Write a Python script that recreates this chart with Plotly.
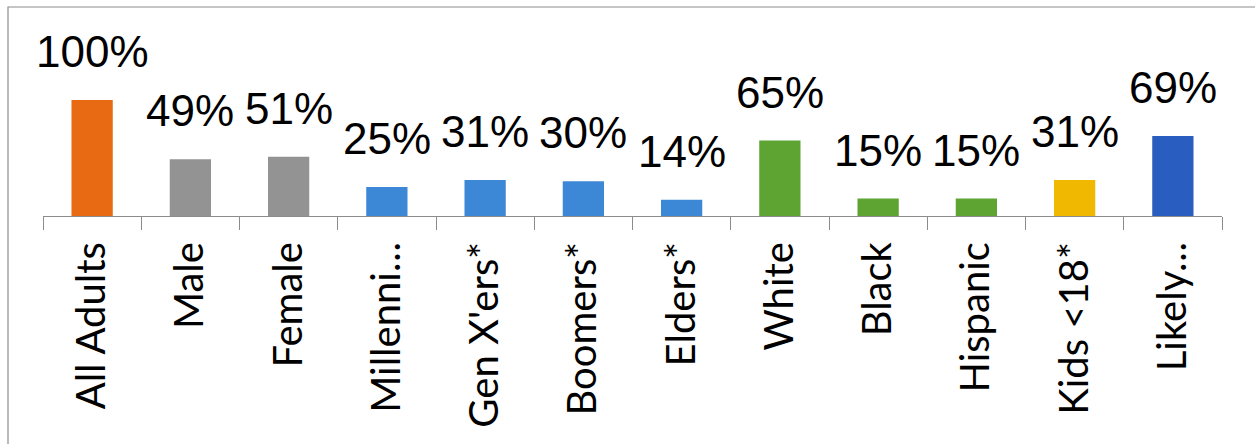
import plotly.graph_objects as go

# Audience segments and their share (%)
categories = ["All Adults", "Male", "Female", "Millenni…", "Gen X'ers*", "Boomers*",
              "Elders*", "White", "Black", "Hispanic", "Kids <18*", "Likely…"]
values = [100, 49, 51, 25, 31, 30, 14, 65, 15, 15, 31, 69]
value_labels = ["100%", "49%", "51%", "25%", "31%", "30%", "14%", "65%", "15%", "15%", "31%", "69%"]
bar_colors = ["#E86A12", "#939393", "#939393", "#3C88D6", "#3C88D6", "#3C88D6",
              "#3C88D6", "#5DA433", "#5DA433", "#5DA433", "#F0B800", "#2A5DC0"]

W, H = 1255, 444
ML, MR, MT, MB = 43, 33, 20, 228

fig = go.Figure()
fig.add_trace(go.Bar(
    x=categories,
    y=values,
    width=0.42,
    marker=dict(color=bar_colors, line=dict(width=0)),
    hoverinfo="x+y",
))

for cat, v, lab in zip(categories, values, value_labels):
    fig.add_annotation(
        x=cat, y=v, text=lab, showarrow=False,
        xanchor="center", yanchor="bottom", yshift=22,
        font=dict(family="Liberation Sans, Arial, sans-serif", size=44, color="#000000"),
    )

# Outer frame (left and top edges visible, the rest runs off the canvas)
pw = W - ML - MR
ph = H - MT - MB
fig.add_shape(
    type="rect", xref="paper", yref="paper",
    x0=(8 - ML) / pw, x1=(W + 20 - ML) / pw,
    y0=-(H + 20 - MT - ph) / ph, y1=(H - 7 - MB) / ph,
    line=dict(color="#8C8C8C", width=1.2), fillcolor="rgba(0,0,0,0)", layer="below",
)

fig.update_layout(
    width=W, height=H,
    margin=dict(l=ML, r=MR, t=MT, b=MB, pad=0, autoexpand=False),
    paper_bgcolor="#FFFFFF", plot_bgcolor="#FFFFFF",
    showlegend=False,
    bargap=0.58,
)
fig.update_xaxes(
    type="category", automargin=False,
    range=[-0.5, len(categories) - 0.5],
    showline=True, linecolor="#8C8C8C", linewidth=1.2,
    ticks="outside", tickson="boundaries", ticklen=13, tickcolor="#8C8C8C", tickwidth=1.2,
    tickangle=-90, ticklabelstandoff=9,
    tickfont=dict(family="Lato, Liberation Sans, sans-serif", size=40, color="#000000"),
    showgrid=False, zeroline=False,
)
fig.update_yaxes(
    range=[0, ph / 116 * 100], automargin=False,
    visible=False, showgrid=False, zeroline=False,
)

fig.write_html("out.html")
